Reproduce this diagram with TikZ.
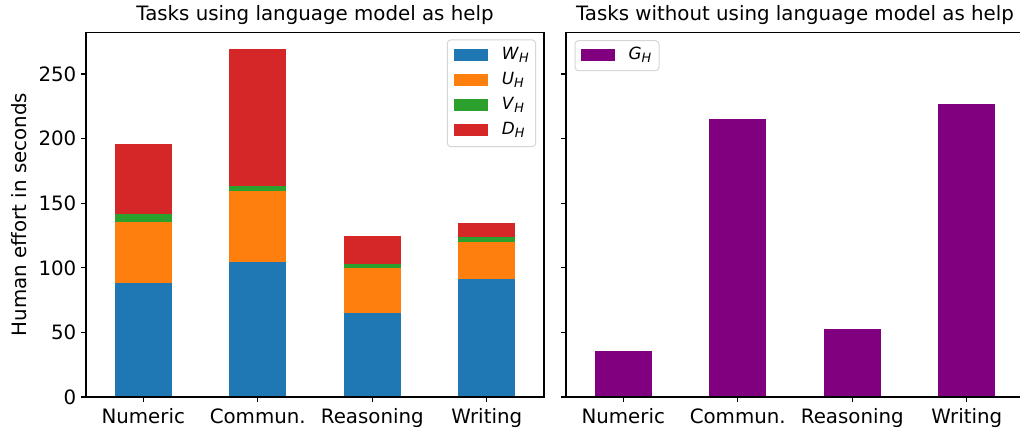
\documentclass[tikz,border=0pt]{standalone}
\usepackage{fontspec}
\setmainfont{DejaVu Sans}
\definecolor{tabblue}{HTML}{1F77B4}
\definecolor{taborange}{HTML}{FF7F0E}
\definecolor{tabgreen}{HTML}{2CA02C}
\definecolor{tabred}{HTML}{D62728}
\definecolor{gpurple}{HTML}{800080}
\definecolor{legedge}{HTML}{D6D6D6}
\newcommand{\leglab}[2]{\textit{#1}\raisebox{-3.4pt}{\fontsize{12.8}{13}\selectfont\textit{#2}}}
\begin{document}
\begin{tikzpicture}[x=1pt,y=-1pt,
  spine/.style={line width=1.1pt, black, line cap=rect},
  axtick/.style={line width=1.1pt, black},
  ticklab/.style={font=\fontsize{19.8}{24}\selectfont, inner sep=0pt},
  titlelab/.style={font=\fontsize{19.8}{24}\selectfont, inner sep=0pt, anchor=base},
  legbox/.style={draw=legedge, fill=white, line width=1pt, rounded corners=3.5pt},
  legtext/.style={font=\fontsize{16.8}{20}\selectfont, inner sep=0pt, anchor=base west}]
\useasboundingbox (0,0) rectangle (1020,430);
\fill[white] (0,0) rectangle (1020,430);

% ---------- left panel bars ----------
\foreach \c/\w/\u/\v/\d in {143.25/283/222/213.7/144,
                             257.75/262/191/185.7/49.3,
                             372.25/313/268/263.7/236,
                             486.75/279/242/237/223}{
  \fill[tabblue]   (\c-28.6,397) rectangle (\c+28.6,\w);
  \fill[taborange] (\c-28.6,\w)  rectangle (\c+28.6,\u);
  \fill[tabgreen]  (\c-28.6,\u)  rectangle (\c+28.6,\v);
  \fill[tabred]    (\c-28.6,\v)  rectangle (\c+28.6,\d);
}

% ---------- right panel bars ----------
\foreach \c/\g in {623.25/351, 737.75/119, 852.25/329, 966.75/104}{
  \fill[gpurple] (\c-28.6,397) rectangle (\c+28.6,\g);
}

% ---------- spines ----------
\draw[spine] (86,32.3) rectangle (544,397);
\begin{scope}
\clip (560,0) rectangle (1020,430);
\draw[spine] (566,32.3) rectangle (1024,397);
\end{scope}

% ---------- y ticks ----------
\foreach \val/\yy in {0/397, 50/332.4, 100/267.8, 150/203.2, 200/138.6, 250/74}{
  \draw[axtick] (86,\yy) -- (81.1,\yy);
  \node[ticklab, anchor=east] (yl\val) at (76.5,\yy) {\val};
  \draw[axtick] (566,\yy) -- (561.1,\yy);
}

% ---------- x ticks ----------
\foreach \c/\name/\lab in {143.25/a/Numeric, 257.75/b/Commun., 372.25/c/Reasoning, 486.75/d/Writing}{
  \draw[axtick] (\c,397) -- (\c,401.9);
  \node[ticklab, anchor=base] (xl\name) at (\c,423) {\lab};
}
\foreach \c/\name/\lab in {623.25/a/Numeric, 737.75/b/Commun., 852.25/c/Reasoning, 966.75/d/Writing}{
  \draw[axtick] (\c,397) -- (\c,401.9);
  \node[ticklab, anchor=base] (xr\name) at (\c,423) {\lab};
}

% ---------- titles and axis label ----------
\node[titlelab] (tleft) at (315,20.5) {Tasks using language model as help};
\node[titlelab] (tright) at (795,20.5) {Tasks without using language model as help};
\node[ticklab, rotate=90, anchor=base] (ylab) at (26.5,214.6) {Human effort in seconds};

% ---------- left legend ----------
\draw[legbox] (447.3,40) rectangle (535.7,146.7);
\foreach \yy/\col/\a/\name in {55/tabblue/W/w, 80/taborange/U/u, 105/tabgreen/V/v, 130/tabred/D/d}{
  \fill[\col] (454,\yy-5.7) rectangle (488.3,\yy+5.7);
  \node[legtext] (leg\name) at (501.7,\yy+4.3) {\leglab{\a}{H}};
}

% ---------- right legend ----------
\draw[legbox] (575,40.7) rectangle (659,70.7);
\fill[gpurple] (581,49.3) rectangle (615,60.7);
\node[legtext] (legg) at (628.3,59.3) {\leglab{G}{H}};
\end{tikzpicture}
\end{document}
